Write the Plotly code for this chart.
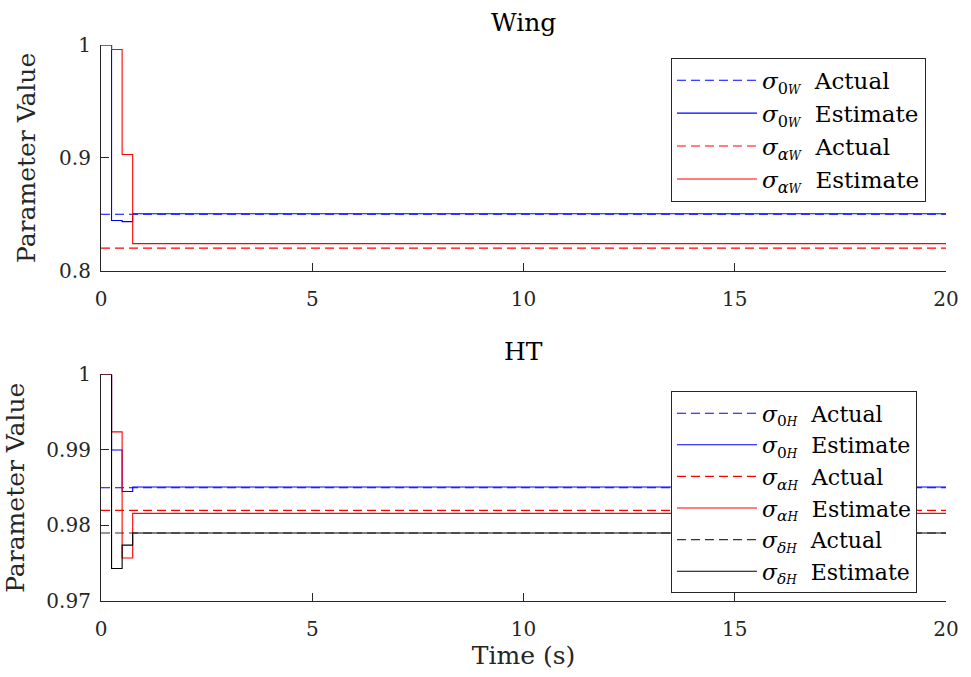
import plotly.graph_objects as go
from plotly.subplots import make_subplots

# Step times (s)
t = [0, 0.25, 0.5, 0.75, 20]

# Wing parameters
wing_s0_actual = 0.85
wing_sa_actual = 0.82
wing_s0_est = [1.0, 0.8445, 0.8435, 0.8505, 0.8505]
wing_sa_est = [1.0, 0.996, 0.903, 0.824, 0.824]

# HT parameters
ht_s0_actual = 0.985
ht_sa_actual = 0.982
ht_sd_actual = 0.979
ht_s0_est = [1.0, 0.990, 0.9845, 0.9851, 0.9851]
ht_sa_est = [1.0, 0.9924, 0.9757, 0.9816, 0.9816]
ht_sd_est = [1.0, 0.9743, 0.9774, 0.9790, 0.9790]

x_ticks = [0, 5, 10, 15, 20]
wing_yticks = [0.8, 0.9, 1.0]
wing_yticklabels = ["0.8", "0.9", "1"]
ht_yticks = [0.97, 0.98, 0.99, 1.0]
ht_yticklabels = ["0.97", "0.98", "0.99", "1"]

FONT = "DejaVu Serif"
TXT = "rgb(38,38,38)"
BLUE = "rgb(0,0,255)"
RED = "rgb(255,0,0)"
BLACK = "rgb(0,0,0)"
DASH = "9px,5px"

fig = make_subplots(rows=2, cols=1, vertical_spacing=0.0)

def sym(sub, sub2):
    return f"<i>σ</i><sub>{sub}<span style='font-size:12px'><i>{sub2}</i></span></sub>"

def add(row, x, y, color, dash, name, legend):
    fig.add_trace(go.Scatter(x=x, y=y, mode="lines", line=dict(color=color, width=1.1, dash=dash, shape="hv"),
                             name=name, legend=legend, showlegend=True), row=row, col=1)

# Wing
add(1, [t[0], t[-1]], [wing_s0_actual] * 2, BLUE, DASH, sym("0", "W") + "  Actual", "legend")
add(1, t, wing_s0_est, BLUE, "solid", sym("0", "W") + "  Estimate", "legend")
add(1, [t[0], t[-1]], [wing_sa_actual] * 2, RED, DASH, sym("<i>α</i>", "W") + "  Actual", "legend")
add(1, t, wing_sa_est, RED, "solid", sym("<i>α</i>", "W") + "  Estimate", "legend")

# HT
add(2, [t[0], t[-1]], [ht_s0_actual] * 2, BLUE, DASH, sym("0", "H") + "  Actual", "legend2")
add(2, t, ht_s0_est, BLUE, "solid", sym("0", "H") + "  Estimate", "legend2")
add(2, [t[0], t[-1]], [ht_sa_actual] * 2, RED, DASH, sym("<i>α</i>", "H") + "  Actual", "legend2")
add(2, t, ht_sa_est, RED, "solid", sym("<i>α</i>", "H") + "  Estimate", "legend2")
add(2, [t[0], t[-1]], [ht_sd_actual] * 2, "rgb(50,50,50)", DASH, sym("<i>δ</i>", "H") + "  Actual", "legend2")
add(2, t, ht_sd_est, BLACK, "solid", sym("<i>δ</i>", "H") + "  Estimate", "legend2")

axis_common = dict(showline=True, linecolor=TXT, linewidth=1.2, ticks="inside", ticklen=8,
                   tickcolor=TXT, showgrid=False, zeroline=False, mirror=False,
                   tickfont=dict(family=FONT, size=20, color=TXT))

fig.update_xaxes(range=[0, 20], tickvals=x_ticks, ticktext=[str(v) for v in x_ticks],
                 ticklabelstandoff=10, **axis_common)
fig.update_yaxes(ticklabelstandoff=5, **axis_common)
ytitle_font = dict(family=FONT, size=25, color=TXT)
fig.update_yaxes(row=1, col=1, range=[0.8, 1.0], tickvals=wing_yticks, ticktext=wing_yticklabels,
                 domain=[0.594, 1.0],
                 title=dict(text="Parameter Value", font=ytitle_font, standoff=16))
fig.update_yaxes(row=2, col=1, range=[0.97, 1.0], tickvals=ht_yticks, ticktext=ht_yticklabels,
                 domain=[0.0, 0.4075],
                 title=dict(text="Parameter Value", font=ytitle_font, standoff=14))
fig.update_xaxes(row=2, col=1, title=dict(text="Time (s)", font=ytitle_font, standoff=6))

legend_common = dict(bgcolor="white", bordercolor=TXT, borderwidth=1,
                     xanchor="left", yanchor="top",
                     itemwidth=80, tracegroupgap=0, itemclick=False)

plot_h = 677 - 45 - 75
fig.update_layout(
    width=971, height=677,
    margin=dict(l=101, r=19, t=45, b=75),
    paper_bgcolor="white", plot_bgcolor="white",
    font=dict(family=FONT, color="black"),
    legend=dict(x=0.6745, y=0.977, font=dict(family=FONT, size=23, color="black"), **legend_common),
    legend2=dict(x=0.6745, y=0.377, font=dict(family=FONT, size=22, color="black"), **legend_common),
    annotations=[
        dict(text="Wing", x=0.5, y=1 + (45 - 22) / plot_h, xref="paper", yref="paper", showarrow=False,
             yanchor="middle", font=dict(family=FONT, size=25, color="black")),
        dict(text="HT", x=0.5, y=1 - (352 - 45) / plot_h, xref="paper", yref="paper", showarrow=False,
             yanchor="middle", font=dict(family=FONT, size=25, color="black")),
    ],
)

fig.write_html("out.html")
